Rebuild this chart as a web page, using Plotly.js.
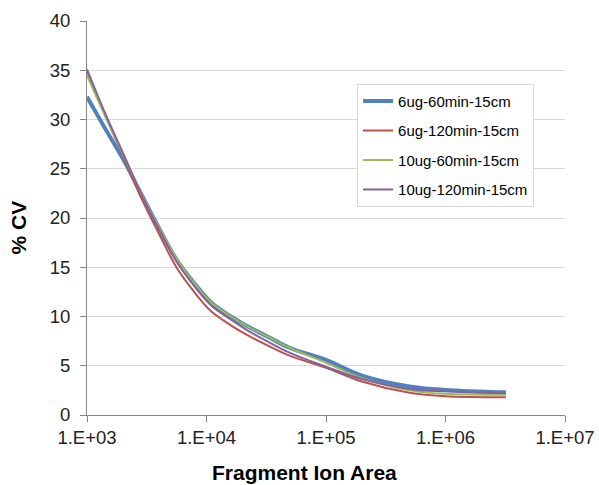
<!DOCTYPE html>
<html>
<head>
<meta charset="utf-8">
<script src="https://cdn.plot.ly/plotly-3.0.1.min.js"></script>
<style>html,body{margin:0;padding:0;background:#fff;}#chart{width:599px;height:485px;}</style>
</head>
<body>
<div id="chart"></div>
<script>
// Fragment ion area (x) sample points
const fragmentArea = [1e3, 1.4e3, 2e3, 2.8e3, 4e3, 5.6e3, 8e3, 1.1e4, 1.6e4, 2.2e4, 3.2e4, 5e4, 1e5, 2e5, 5e5, 1e6, 3.2e6];
// %CV series
const cv_6ug_60 = [32.3, 29.2, 26.0, 22.6, 19.0, 15.8, 13.3, 11.4, 10.0, 9.0, 8.0, 6.8, 5.6, 4.0, 2.9, 2.55, 2.3];
const cv_6ug_120 = [34.9, 30.6, 26.3, 22.2, 18.4, 15.0, 12.4, 10.5, 9.1, 8.1, 7.1, 6.0, 4.8, 3.4, 2.25, 1.9, 1.8];
const cv_10ug_60 = [34.5, 30.5, 26.5, 22.7, 19.1, 15.9, 13.3, 11.4, 10.0, 9.0, 8.0, 6.8, 5.3, 3.75, 2.5, 2.15, 2.05];
const cv_10ug_120 = [35.1, 30.8, 26.6, 22.6, 18.9, 15.6, 13.0, 11.1, 9.7, 8.6, 7.5, 6.3, 4.9, 3.65, 2.65, 2.4, 2.2];
const seriesNames = ["6ug-60min-15cm", "6ug-120min-15cm", "10ug-60min-15cm", "10ug-120min-15cm"];
const xTickVals = [1e3, 1e4, 1e5, 1e6, 1e7];
const xTickText = ["1.E+03", "1.E+04", "1.E+05", "1.E+06", "1.E+07"];
const yTickVals = [0, 5, 10, 15, 20, 25, 30, 35, 40];

const colors = ["#4F81BD", "#C0504D", "#9BBB59", "#8064A2"];
const widths = [4, 2, 2, 2];
const seriesData = [cv_6ug_60, cv_6ug_120, cv_10ug_60, cv_10ug_120];

const traces = seriesData.map((ys, i) => ({
  x: fragmentArea,
  y: ys,
  type: "scatter",
  mode: "lines",
  name: seriesNames[i],
  legendgroup: "g" + i,
  line: {color: colors[i], width: widths[i], shape: "spline", smoothing: 1}
}));
const font = "'Liberation Sans', Arial, sans-serif";
const layout = {
  width: 599, height: 485,
  margin: {l: 87, r: 34, t: 21, b: 70, pad: 0},
  paper_bgcolor: "#fff", plot_bgcolor: "#fff",
  showlegend: true,
  font: {family: font, color: "#000"},
  xaxis: {
    type: "log", range: [3, 7],
    tickvals: xTickVals, ticktext: xTickText,
    showgrid: false, zeroline: false,
    showline: true, linecolor: "#868686", linewidth: 1,
    ticks: "outside", ticklen: 6, tickcolor: "#868686",
    tickfont: {family: font, size: 18.5, color: "#222"}
  },
  yaxis: {
    range: [0, 40], tickvals: yTickVals,
    showgrid: true, gridcolor: "#D9D9D9", gridwidth: 1,
    zeroline: false,
    showline: true, linecolor: "#868686", linewidth: 1,
    ticks: "outside", ticklen: 6, tickcolor: "#868686",
    ticklabelstandoff: 6,
    tickfont: {family: font, size: 18.5, color: "#222"}
  },
  legend: {
    x: 0.565, y: 0.841, xanchor: "left", yanchor: "top",
    bgcolor: "#fff", bordercolor: "#D9D9D9", borderwidth: 1,
    font: {family: font, size: 15, color: "#000"},
    traceorder: "grouped", tracegroupgap: 7
  },
  annotations: [
    {text: "<b>Fragment Ion Area</b>", xref: "paper", yref: "paper",
     x: 0.456, y: 0, yshift: -57, xanchor: "center", yanchor: "middle",
     showarrow: false, font: {family: font, size: 21, color: "#000"}},
    {text: "<b>% CV</b>", xref: "paper", yref: "paper",
     x: 0, xshift: -69, y: 0.476, xanchor: "center", yanchor: "middle",
     textangle: -90, showarrow: false, font: {family: font, size: 21, color: "#000"}}
  ]
};
Plotly.newPlot("chart", traces, layout, {displayModeBar: false, staticPlot: true});
</script>
</body>
</html>
